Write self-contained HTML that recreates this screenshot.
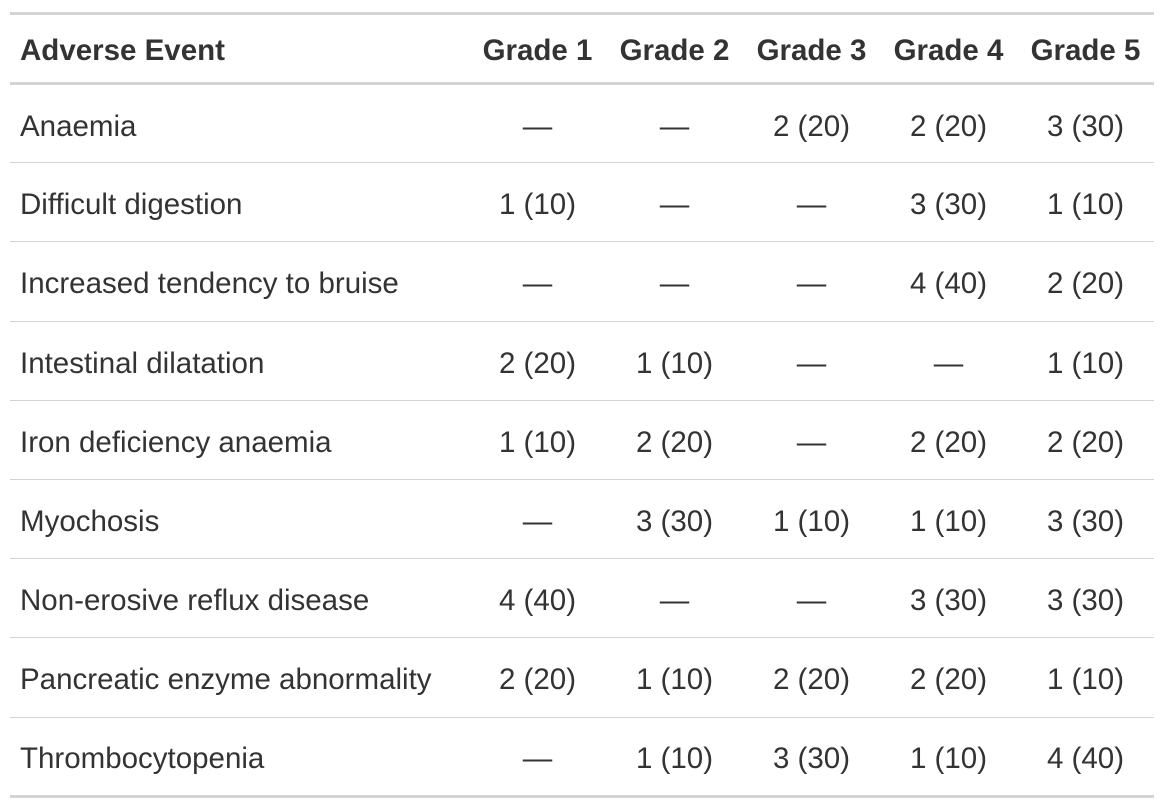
<!DOCTYPE html>
<html><head><meta charset="utf-8"><style>
body{margin:0;background:#fff;font-family:"Liberation Sans",Arial,sans-serif;color:#333;}
table{position:absolute;left:10px;top:12px;border-collapse:collapse;table-layout:fixed;width:1144px;font-size:29.5px;}
th,td{padding:0 8px;}
thead tr{height:70px;}
tbody tr{height:79.2px;}
th{font-weight:bold;text-align:center;border-top:3px solid #d3d3d3;border-bottom:3px solid #d3d3d3;vertical-align:middle;padding-top:4px;}
th.l,td.l{text-align:left;padding-left:10px;}
td{text-align:center;border-top:1px solid #d3d3d3;vertical-align:middle;padding-top:6px;}
tbody tr:last-child td{border-bottom:3px solid #d3d3d3;}
</style></head><body>
<table>
<colgroup><col style="width:459px"><col style="width:137px"><col style="width:137px"><col style="width:137px"><col style="width:137px"><col style="width:137px"></colgroup>
<thead><tr><th class="l">Adverse Event</th><th>Grade 1</th><th>Grade 2</th><th>Grade 3</th><th>Grade 4</th><th>Grade 5</th></tr></thead>
<tbody>
<tr><td class="l">Anaemia</td><td>—</td><td>—</td><td>2 (20)</td><td>2 (20)</td><td>3 (30)</td></tr>
<tr><td class="l">Difficult digestion</td><td>1 (10)</td><td>—</td><td>—</td><td>3 (30)</td><td>1 (10)</td></tr>
<tr><td class="l">Increased tendency to bruise</td><td>—</td><td>—</td><td>—</td><td>4 (40)</td><td>2 (20)</td></tr>
<tr><td class="l">Intestinal dilatation</td><td>2 (20)</td><td>1 (10)</td><td>—</td><td>—</td><td>1 (10)</td></tr>
<tr><td class="l">Iron deficiency anaemia</td><td>1 (10)</td><td>2 (20)</td><td>—</td><td>2 (20)</td><td>2 (20)</td></tr>
<tr><td class="l">Myochosis</td><td>—</td><td>3 (30)</td><td>1 (10)</td><td>1 (10)</td><td>3 (30)</td></tr>
<tr><td class="l">Non-erosive reflux disease</td><td>4 (40)</td><td>—</td><td>—</td><td>3 (30)</td><td>3 (30)</td></tr>
<tr><td class="l">Pancreatic enzyme abnormality</td><td>2 (20)</td><td>1 (10)</td><td>2 (20)</td><td>2 (20)</td><td>1 (10)</td></tr>
<tr><td class="l">Thrombocytopenia</td><td>—</td><td>1 (10)</td><td>3 (30)</td><td>1 (10)</td><td>4 (40)</td></tr>
</tbody></table>
</body></html>
